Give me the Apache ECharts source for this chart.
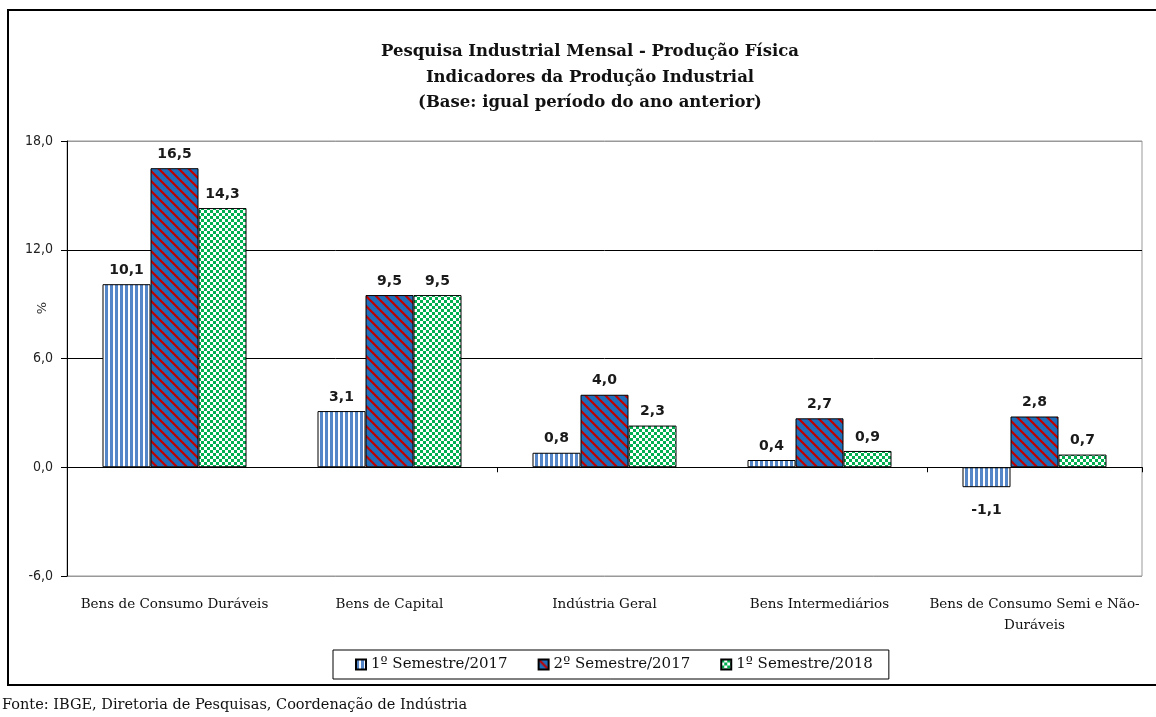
<!DOCTYPE html>
<html>
<head>
<meta charset="utf-8">
<script src="https://cdn.jsdelivr.net/npm/echarts@6/dist/echarts.min.js"></script>
<style>
html, body { margin: 0; padding: 0; background: #fff; }
#main { width: 1156px; height: 717px; }
</style>
</head>
<body>
<div id="main"></div>
<script>
var categories = ['Bens de Consumo Duráveis', 'Bens de Capital', 'Indústria Geral', 'Bens Intermediários', 'Bens de Consumo Semi e Não-Duráveis'];
var serieNames = ['1º Semestre/2017', '2º Semestre/2017', '1º Semestre/2018'];
var sem1_2017 = [10.1, 3.1, 0.8, 0.4, -1.1];
var sem2_2017 = [16.5, 9.5, 4.0, 2.7, 2.8];
var sem1_2018 = [14.3, 9.5, 2.3, 0.9, 0.7];
var titleLines = ['Pesquisa Industrial Mensal - Produção Física', 'Indicadores da Produção Industrial', '(Base: igual período do ano anterior)'];
var fonteText = 'Fonte: IBGE, Diretoria de Pesquisas, Coordenação de Indústria';

var serif = 'DejaVu Serif';

// padrões das barras
function stripeV() {
    var c = document.createElement('canvas');
    c.width = 5; c.height = 5;
    var g = c.getContext('2d');
    g.fillStyle = '#fff'; g.fillRect(0, 0, 5, 5);
    g.fillStyle = '#5586c8'; g.fillRect(0, 0, 3, 5);
    return c;
}
function stripeD() {
    var s = 10;
    var c = document.createElement('canvas');
    c.width = s; c.height = s;
    var g = c.getContext('2d');
    g.fillStyle = '#1f6cb8'; g.fillRect(0, 0, s, s);
    g.strokeStyle = '#c00000'; g.lineWidth = 2.2;
    for (var k = -1; k <= 1; k++) {
        g.beginPath();
        g.moveTo(k * s - 1, -1);
        g.lineTo(k * s + s + 1, s + 1);
        g.stroke();
    }
    return c;
}
function checker() {
    var c = document.createElement('canvas');
    c.width = 6; c.height = 6;
    var g = c.getContext('2d');
    g.fillStyle = '#fff'; g.fillRect(0, 0, 6, 6);
    g.fillStyle = '#00b050';
    g.fillRect(0, 0, 3, 3); g.fillRect(3, 3, 3, 3);
    return c;
}

function fmt(v) { return v.toFixed(1).replace('.', ','); }

function buildData(arr) {
    var out = [];
    for (var i = 0; i < arr.length; i++) {
        var item = { value: arr[i] };
        if (arr[i] < 0) {
            item.label = { position: 'bottom', distance: 16 };
        }
        out.push(item);
    }
    return out;
}

var labelStyle = {
    show: true,
    position: 'top',
    distance: 7,
    fontFamily: 'DejaVu Sans',
    fontWeight: 'bold',
    fontSize: 14,
    color: '#1a1a1a',
    formatter: function (p) { return fmt(p.value); }
};

function makeSeries(name, arr, pattern) {
    return {
        name: name,
        type: 'bar',
        xAxisIndex: 0,
        barWidth: 48,
        barGap: '0%',
        data: buildData(arr),
        itemStyle: {
            color: { image: pattern, repeat: 'repeat' },
            borderColor: '#000',
            borderWidth: 1
        },
        label: labelStyle
    };
}

var myChart = echarts.init(document.getElementById('main'));
var option = {
    backgroundColor: '#fff',
    animation: false,
    title: {
        text: titleLines.join('\n'),
        left: 585,
        textAlign: 'center',
        top: 34,
        textStyle: {
            fontFamily: serif,
            fontWeight: 'bold',
            fontSize: 16.5,
            lineHeight: 25.5,
            color: '#111'
        }
    },
    legend: {
        left: 333,
        top: 650,
        data: serieNames,
        icon: 'rect',
        itemWidth: 10,
        itemHeight: 10,
        itemGap: 30,
        borderColor: '#000',
        borderWidth: 1,
        padding: [7, 16, 7, 22],
        textStyle: {
            fontFamily: serif,
            fontSize: 15,
            color: '#111'
        }
    },
    grid: {
        left: 67,
        right: 14,
        top: 141,
        bottom: 141,
        outerBoundsMode: 'none',
        show: true,
        borderColor: '#999',
        borderWidth: 1
    },
    xAxis: [
        {
            type: 'category',
            data: categories,
            axisLine: { onZero: true, lineStyle: { color: '#000', width: 1 } },
            axisTick: { show: true, length: 5, lineStyle: { color: '#000' } },
            axisLabel: { show: false },
            splitLine: { show: false }
        },
        {
            type: 'category',
            data: categories,
            position: 'bottom',
            axisLine: { show: false, onZero: false },
            axisTick: { show: false },
            axisLabel: {
                margin: 18,
                interval: 0,
                fontFamily: serif,
                fontSize: 13.5,
                lineHeight: 21,
                color: '#111',
                formatter: function (v) { return v.replace('Não-', 'Não-\n'); }
            }
        }
    ],
    yAxis: {
        type: 'value',
        min: -6,
        max: 18,
        interval: 6,
        axisLine: { show: true, lineStyle: { color: '#000' } },
        axisTick: { show: true, length: 6, lineStyle: { color: '#000' } },
        axisLabel: {
            margin: 14,
            fontFamily: 'DejaVu Sans Condensed',
            fontSize: 14,
            color: '#222',
            formatter: function (v) { return fmt(v); }
        },
        splitLine: { show: true, lineStyle: { color: ['#999', '#000', '#000', '#000', '#999'] } }
    },
    series: [
        makeSeries(serieNames[0], sem1_2017, stripeV()),
        makeSeries(serieNames[1], sem2_2017, stripeD()),
        makeSeries(serieNames[2], sem1_2018, checker())
    ],
    graphic: [
        {
            type: 'polyline',
            shape: { points: [[1156, 10], [8, 10], [8, 685], [1156, 685]] },
            style: { stroke: '#000', lineWidth: 2, fill: null },
            silent: true
        },
        {
            type: 'text',
            x: 43,
            y: 308,
            rotation: Math.PI / 2,
            style: {
                text: '%',
                fontFamily: 'DejaVu Sans',
                fontSize: 13,
                fill: '#333',
                align: 'center',
                verticalAlign: 'middle'
            }
        },
        {
            type: 'text',
            left: 2,
            top: 698,
            style: {
                text: fonteText,
                fontFamily: serif,
                fontSize: 14.5,
                fill: '#111'
            }
        }
    ]
};
myChart.setOption(option);
</script>
</body>
</html>
